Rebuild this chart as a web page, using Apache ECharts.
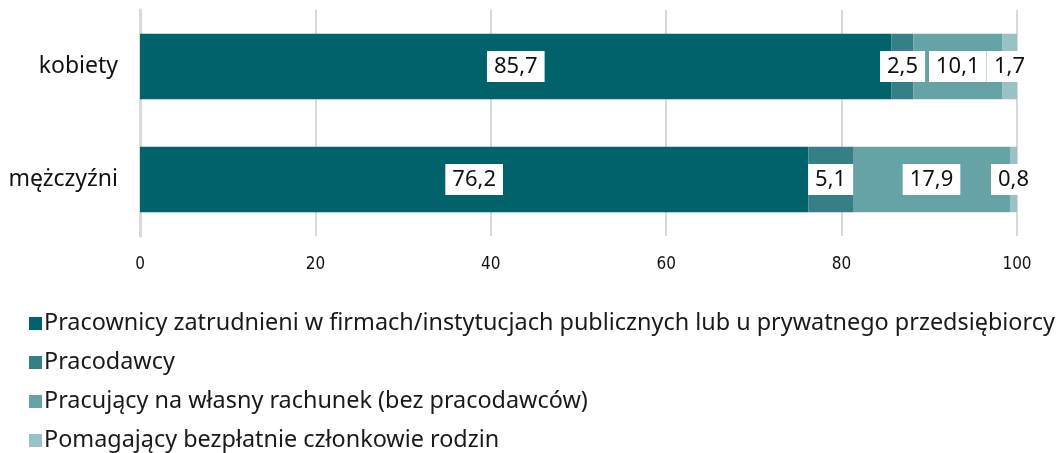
<!DOCTYPE html>
<html lang="pl">
<head>
    <meta charset="UTF-8">
    <title>Struktura pracujących</title>
    <script src="https://cdn.jsdelivr.net/npm/echarts@6/dist/echarts.min.js"></script>
    <style>
        html, body { margin: 0; padding: 0; background: #fff; }
        #chart { width: 1056px; height: 453px; }
    </style>
</head>
<body>
<div id="chart"></div>
<script type="text/javascript">
    // kategorie i dane (%)
    var categories = ['kobiety', 'mężczyźni'];
    var seriesNames = [
        'Pracownicy zatrudnieni w firmach/instytucjach publicznych lub u prywatnego przedsiębiorcy',
        'Pracodawcy',
        'Pracujący na własny rachunek (bez pracodawców)',
        'Pomagający bezpłatnie członkowie rodzin'
    ];
    var employees = [85.7, 76.2];
    var employers = [2.5, 5.1];
    var selfEmployed = [10.1, 17.9];
    var familyHelpers = [1.7, 0.8];
    var xTicks = [0, 20, 40, 60, 80, 100];

    var colors = ['#00626a', '#358086', '#66a3a6', '#99c2c4'];
    var allData = [employees, employers, selfEmployed, familyHelpers];
    var fontFam = "'Noto Sans', sans-serif";

    var chart = echarts.init(document.getElementById('chart'));

    var series = seriesNames.map(function (name, i) {
        return {
            name: name,
            type: 'bar',
            stack: 'total',
            barWidth: '58%',
            itemStyle: { color: colors[i] },
            label: {
                show: true,
                position: 'inside',
                color: '#111',
                fontFamily: fontFam,
                fontSize: 22,
                backgroundColor: '#fff',
                padding: [6, 7, 3, 7],
                formatter: function (p) {
                    return String(p.value).replace('.', ',');
                }
            },
            data: allData[i]
        };
    });

    var option = {
        animation: false,
        color: colors,
        textStyle: { fontFamily: fontFam },
        grid: {
            left: 140,
            right: 39,
            top: 10,
            bottom: 217
        },
        legend: {
            orient: 'vertical',
            left: 24,
            top: 307,
            height: 300,
            itemWidth: 13,
            itemHeight: 13,
            itemGap: 16,
            icon: 'rect',
            textStyle: {
                fontFamily: fontFam,
                fontSize: 23.4,
                color: '#1a1a1a',
                padding: [0, 0, 0, -3]
            },
            data: seriesNames
        },
        xAxis: {
            type: 'value',
            min: xTicks[0],
            max: xTicks[xTicks.length - 1],
            interval: 20,
            axisLine: { show: false },
            axisTick: { show: false },
            axisLabel: {
                fontFamily: "'DejaVu Sans Condensed', 'Liberation Sans Narrow', 'Noto Sans', sans-serif",
                fontSize: 17,
                color: '#111',
                margin: 20
            },
            splitLine: {
                lineStyle: { color: '#d9d9d9', width: 2 }
            }
        },
        yAxis: {
            type: 'category',
            inverse: true,
            data: categories,
            axisLine: { show: true, lineStyle: { color: '#d9d9d9', width: 3 } },
            axisTick: { show: false },
            axisLabel: {
                fontFamily: fontFam,
                fontSize: 23,
                color: '#111',
                margin: 22
            }
        },
        series: series
    };
    chart.setOption(option);
</script>
</body>
</html>
